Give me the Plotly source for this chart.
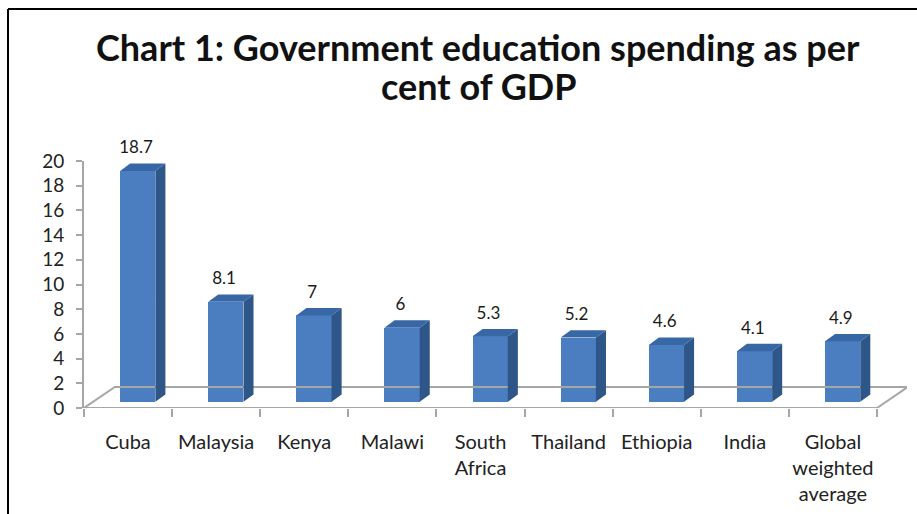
import plotly.graph_objects as go

categories = ["Cuba", "Malaysia", "Kenya", "Malawi", "South<br>Africa", "Thailand",
              "Ethiopia", "India", "Global<br>weighted<br>average"]
values = [18.7, 8.1, 7, 6, 5.3, 5.2, 4.6, 4.1, 4.9]
value_labels = ["18.7", "8.1", "7", "6", "5.3", "5.2", "4.6", "4.1", "4.9"]
y_ticks = list(range(0, 21, 2))
title_lines = ["Chart 1: Government education spending as per", "cent of GDP"]

FRONT = "#4A7EC0"
SIDE = "#2E5688"
TOP = "#3867A6"
GRID = "#A6A6A6"
FONT = "Lato"

n = len(values)
xs = list(range(n))
shift = 0.11      # bar offset into depth
bw = 0.40         # bar width
base = 0.5        # bar base above front floor
ddx, ddy = 0.114, 0.6   # bar depth projection
fdx, fdy = 0.35, 1.7    # floor depth projection

fig = go.Figure()

# floor outline
fx = [-0.5, 8.5, 8.5 + fdx, -0.5 + fdx, -0.5]
fy = [0, 0, fdy, fdy, 0]
fig.add_trace(go.Scatter(x=fx, y=fy, mode="lines", line=dict(color=GRID, width=2),
                         hoverinfo="skip", showlegend=False))

# front faces
fig.add_trace(go.Bar(x=[i + shift for i in xs], y=values, base=base, width=bw,
                     marker=dict(color=FRONT, line=dict(width=0)), showlegend=False))

# side and top faces
sx, sy, tx, ty = [], [], [], []
for i, v in zip(xs, values):
    l = i + shift - bw / 2
    r = i + shift + bw / 2
    top = v + base
    sx += [r, r + ddx, r + ddx, r, r, None]
    sy += [base, base + ddy, top + ddy, top, base, None]
    tx += [l, r, r + ddx, l + ddx, l, None]
    ty += [top, top, top + ddy, top + ddy, top, None]
fig.add_trace(go.Scatter(x=sx, y=sy, fill="toself", fillcolor=SIDE, mode="lines",
                         line=dict(width=0, color=SIDE), hoverinfo="skip", showlegend=False))
fig.add_trace(go.Scatter(x=tx, y=ty, fill="toself", fillcolor=TOP, mode="lines",
                         line=dict(width=0, color=TOP), hoverinfo="skip", showlegend=False))

# data labels (invisible marker pushes text a few px above the top face)
fig.add_trace(go.Scatter(x=[i + shift - 0.02 for i in xs],
                         y=[v + base + ddy for v in values],
                         mode="markers+text", text=value_labels, textposition="top center",
                         marker=dict(size=8, opacity=0),
                         textfont=dict(family=FONT, size=17, color="#1a1a1a"),
                         cliponaxis=False, hoverinfo="skip", showlegend=False))

# boundary tick axis (overlay)
fig.add_trace(go.Scatter(x=[-0.5, 8.5], y=[0, 0], xaxis="x2", mode="markers",
                         marker=dict(opacity=0), hoverinfo="skip", showlegend=False))

xr = [-0.5, 8.5 + (907 - 877) / 88.1]
annotations = []
for k, line in enumerate(title_lines):
    annotations.append(dict(text=line, xref="paper", yref="paper",
                            x=(478 - 84) / 823, y=(408 - (47 + 39 * k)) / 247,
                            xanchor="center", yanchor="middle", showarrow=False,
                            font=dict(family=FONT, size=36, color="#111111", weight="bold")))

fig.update_layout(
    width=917, height=514,
    margin=dict(l=84, r=10, t=161, b=106),
    paper_bgcolor="white", plot_bgcolor="white",
    annotations=annotations,
    xaxis=dict(range=xr, tickvals=xs, ticktext=categories,
               showgrid=False, zeroline=False, showline=False, ticks="",
               tickfont=dict(family=FONT, size=20, color="#222222"),
               ticklabelstandoff=20),
    xaxis2=dict(overlaying="x", matches="x", range=xr,
                tickvals=[i - 0.5 for i in range(n + 1)], ticks="outside", ticklen=8,
                tickcolor=GRID, tickwidth=2, showticklabels=False, showgrid=False,
                zeroline=False, showline=False, side="bottom"),
    yaxis=dict(range=[0, 20], tickvals=y_ticks, showgrid=False, zeroline=False,
               showline=True, linecolor=GRID, linewidth=2, ticks="outside", ticklen=6,
               tickcolor=GRID, tickwidth=1.5,
               tickfont=dict(family=FONT, size=19, color="#222222"),
               ticklabelstandoff=8),
    bargap=0,
    shapes=[
        dict(type="line", xref="paper", yref="paper", x0=(8 - 84) / 823, x1=(917 - 84) / 823,
             y0=(408 - 9) / 247, y1=(408 - 9) / 247, line=dict(color="black", width=2)),
        dict(type="line", xref="paper", yref="paper", x0=(8 - 84) / 823, x1=(8 - 84) / 823,
             y0=(408 - 9) / 247, y1=(408 - 514) / 247, line=dict(color="black", width=2)),
    ],
)

fig.write_html("out.html")
